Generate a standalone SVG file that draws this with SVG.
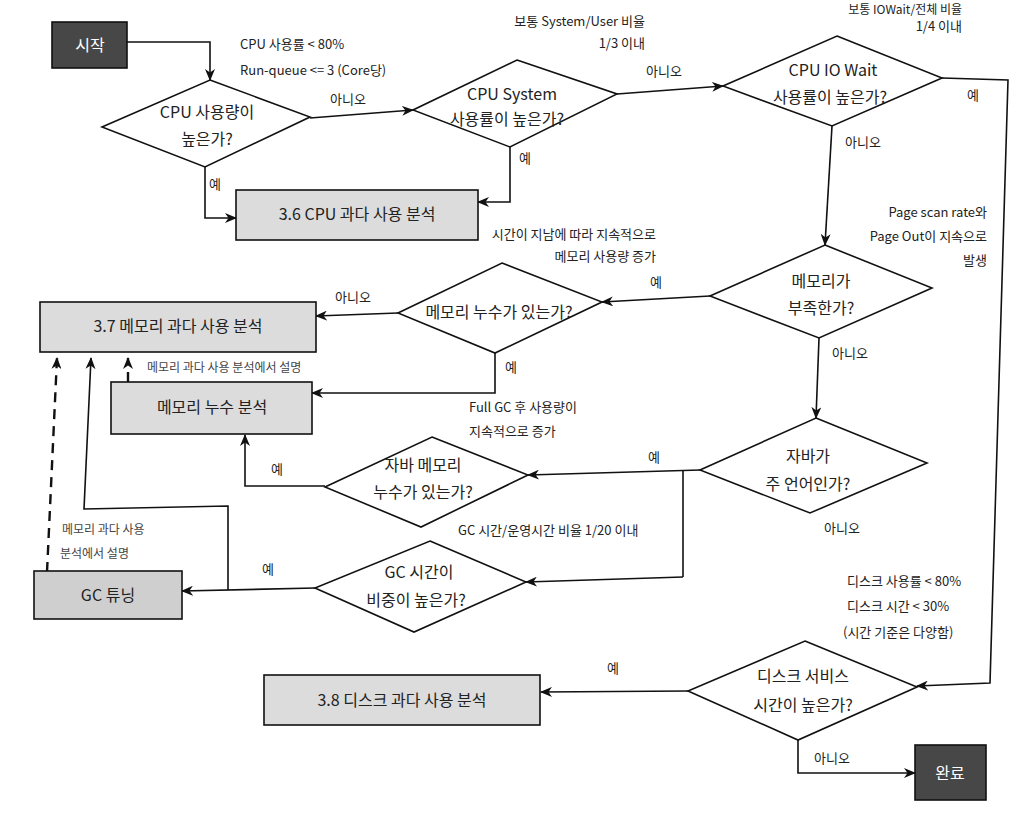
<svg xmlns="http://www.w3.org/2000/svg" width="1020" height="819" viewBox="0 0 1020 819">
<defs>
<marker id="ah" viewBox="0 0 12 10" refX="11" refY="5" markerWidth="12" markerHeight="10" markerUnits="userSpaceOnUse" orient="auto">
<path d="M0,0 L12,5 L0,10 L3.5,5 z" fill="#111"/>
</marker>
<style>
text{font-family:"Noto Sans CJK KR","Noto Sans",sans-serif;fill:#222}
.dt{font-size:16px;text-anchor:middle}
.bt{font-size:16px;text-anchor:middle}
.lb{font-size:13px}
.wt{font-size:16px;text-anchor:middle;fill:#fff}
.dia{fill:#fff;stroke:#111;stroke-width:1.6}
.box{fill:#dcdcdc;stroke:#111;stroke-width:1.6}
.dark{fill:#474747;stroke:#111;stroke-width:1.6}
.c{fill:none;stroke:#111;stroke-width:1.6;marker-end:url(#ah)}
.cn{fill:none;stroke:#111;stroke-width:1.6}
.d{fill:none;stroke:#111;stroke-width:2.4;stroke-dasharray:10 7;marker-end:url(#ah)}
</style>
</defs>
<rect width="1020" height="819" fill="#fff"/>

<g id="connectors">
<path class="c" d="M127,42 H210 V80"/>
<path class="c" d="M205,167 V218 H236"/>
<path class="c" d="M310,118 L413,110"/>
<path class="c" d="M510,147 V202 H478"/>
<path class="c" d="M617,94 L723,86"/>
<path class="c" d="M942,78 L1008,80 L990,683 L917,686"/>
<path class="c" d="M832,126 L825,245"/>
<path class="c" d="M710,296 L602,302"/>
<path class="c" d="M819,338 L816,418"/>
<path class="c" d="M398,313 L316,316"/>
<path class="c" d="M495,353 V393 H312"/>
<path class="d" d="M128,382 V358"/>
<path class="c" d="M700,470 L528,475"/>
<path class="cn" d="M683,471 V577"/>
<path class="c" d="M683,577 L526,582"/>
<path class="c" d="M325,486 H245 V435"/>
<path class="c" d="M315,588 L182,591"/>
<path class="c" d="M228,590 V506 L84,509 L91,358"/>
<path class="d" d="M47,572 L57,358"/>
<path class="c" d="M688,691 L541,692"/>
<path class="c" d="M798,740 V773 H915"/>
</g>

<g id="start">
<rect class="dark" x="52" y="22" width="75" height="46"/>
<text class="wt" x="90" y="51">시작</text>
</g>

<g id="d-cpu">
<polygon class="dia" points="210,80 310,117 205,167 102,127"/>
<text class="dt" x="207" y="118">CPU 사용량이</text>
<text class="dt" x="207" y="145">높은가?</text>
</g>

<g id="d-cpusys">
<polygon class="dia" points="517,60 617,94 510,147 413,110"/>
<text class="dt" x="512" y="100">CPU System</text>
<text class="dt" x="507" y="125">사용률이 높은가?</text>
</g>

<g id="d-iowait">
<polygon class="dia" points="837,36 942,78 832,126 723,86"/>
<text class="dt" x="833" y="76">CPU IO Wait</text>
<text class="dt" x="830" y="103">사용률이 높은가?</text>
</g>

<g id="b-cpu">
<rect class="box" x="236" y="190" width="242" height="50"/>
<text class="bt" x="357" y="220">3.6 CPU 과다 사용 분석</text>
</g>

<g id="d-mem">
<polygon class="dia" points="825,245 932,288 819,338 710,296"/>
<text class="dt" x="821" y="287">메모리가</text>
<text class="dt" x="821" y="314">부족한가?</text>
</g>

<g id="d-leak">
<polygon class="dia" points="502,263 602,302 495,353 398,313"/>
<text class="dt" x="499" y="318">메모리 누수가 있는가?</text>
</g>

<g id="b-mem">
<rect class="box" x="40" y="302" width="276" height="50"/>
<text class="bt" x="178" y="332">3.7 메모리 과다 사용 분석</text>
</g>

<g id="b-leak">
<rect class="box" x="111" y="382" width="201" height="52"/>
<text class="bt" x="212" y="413">메모리 누수 분석</text>
</g>

<g id="d-java">
<polygon class="dia" points="816,418 927,463 810,513 700,470"/>
<text class="dt" x="808" y="462">자바가</text>
<text class="dt" x="808" y="490">주 언어인가?</text>
</g>

<g id="d-jleak">
<polygon class="dia" points="432,437 528,475 421,527 325,487"/>
<text class="dt" x="423" y="471">자바 메모리</text>
<text class="dt" x="423" y="498">누수가 있는가?</text>
</g>

<g id="d-gc">
<polygon class="dia" points="430,541 526,582 414,632 315,588"/>
<text class="dt" x="419" y="578">GC 시간이</text>
<text class="dt" x="416" y="606">비중이 높은가?</text>
</g>

<g id="b-gc">
<rect class="box" x="34" y="571" width="148" height="48" style="fill:#cfcfcf"/>
<text class="bt" x="108" y="601">GC 튜닝</text>
</g>

<g id="d-disk">
<polygon class="dia" points="805,641 917,687 798,740 688,691"/>
<text class="dt" x="803" y="682">디스크 서비스</text>
<text class="dt" x="803" y="711">시간이 높은가?</text>
</g>

<g id="b-disk">
<rect class="box" x="264" y="675" width="276" height="50"/>
<text class="bt" x="402" y="706">3.8 디스크 과다 사용 분석</text>
</g>

<g id="end">
<rect class="dark" x="915" y="745" width="71" height="55"/>
<text class="wt" x="950" y="779">완료</text>
</g>

<g id="labels">
<text class="lb" x="240" y="49">CPU 사용률 &lt; 80%</text>
<text class="lb" x="240" y="75">Run-queue &lt;= 3 (Core당)</text>
<text class="lb" x="330" y="104">아니오</text>
<text class="lb" x="209" y="189">예</text>
<text class="lb" x="519" y="163">예</text>
<text class="lb" x="645" y="26" text-anchor="end">보통 System/User 비율</text>
<text class="lb" x="645" y="48" text-anchor="end">1/3 이내</text>
<text class="lb" x="646" y="76">아니오</text>
<text class="lb" x="962" y="14" text-anchor="end" style="font-size:12px">보통 IOWait/전체 비율</text>
<text class="lb" x="962" y="31" text-anchor="end">1/4 이내</text>
<text class="lb" x="967" y="100">예</text>
<text class="lb" x="845" y="147">아니오</text>
<text class="lb" x="987" y="217" text-anchor="end">Page scan rate와</text>
<text class="lb" x="987" y="241" text-anchor="end">Page Out이 지속으로</text>
<text class="lb" x="987" y="265" text-anchor="end">발생</text>
<text class="lb" x="656" y="239" text-anchor="end">시간이 지남에 따라 지속적으로</text>
<text class="lb" x="656" y="261" text-anchor="end">메모리 사용량 증가</text>
<text class="lb" x="650" y="287">예</text>
<text class="lb" x="832" y="358">아니오</text>
<text class="lb" x="335" y="302">아니오</text>
<text class="lb" x="505" y="372">예</text>
<text class="lb" x="147" y="372" style="font-size:12px;fill:#444">메모리 과다 사용 분석에서 설명</text>
<text class="lb" x="469" y="412">Full GC 후 사용량이</text>
<text class="lb" x="469" y="436">지속적으로 증가</text>
<text class="lb" x="648" y="462">예</text>
<text class="lb" x="271" y="474">예</text>
<text class="lb" x="824" y="533">아니오</text>
<text class="lb" x="458" y="535">GC 시간/운영시간 비율 1/20 이내</text>
<text class="lb" x="262" y="574">예</text>
<text class="lb" x="62" y="534" style="font-size:12px;fill:#444">메모리 과다 사용</text>
<text class="lb" x="60" y="558" style="font-size:12px;fill:#444">분석에서 설명</text>
<text class="lb" x="847" y="586">디스크 사용률 &lt; 80%</text>
<text class="lb" x="847" y="611">디스크 시간 &lt; 30%</text>
<text class="lb" x="843" y="637">(시간 기준은 다양함)</text>
<text class="lb" x="607" y="673">예</text>
<text class="lb" x="814" y="763">아니오</text>
</g>
</svg>
